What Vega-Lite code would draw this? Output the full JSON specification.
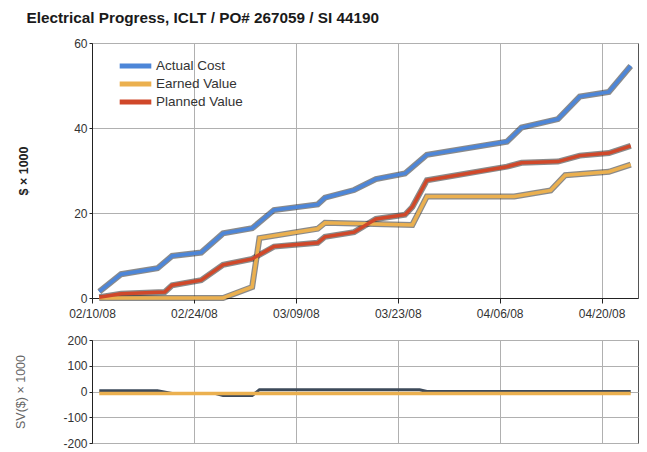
{
  "$schema": "https://vega.github.io/schema/vega-lite/v6.json",
  "autosize": {"type": "pad"},
  "padding": {"left": 14, "top": 11, "right": 0, "bottom": 1},
  "background": "white",
  "title": {
    "text": "Electrical Progress, ICLT / PO# 267059 / SI 44190",
    "anchor": "start",
    "frame": "bounds",
    "font": "Liberation Sans",
    "fontSize": 15.3,
    "fontWeight": "bold",
    "color": "#1a1a1a",
    "dx": 12,
    "offset": 10
  },
  "config": {
    "font": "Liberation Sans",
    "view": {"stroke": "#555", "strokeWidth": 1},
    "axis": {
      "labelFont": "Liberation Sans",
      "labelFontSize": 12,
      "labelColor": "#333",
      "gridColor": "#b0b0b0",
      "gridWidth": 1,
      "domainColor": "#222",
      "tickColor": "#222",
      "titleFont": "Liberation Sans"
    }
  },
  "datasets": {
    "main": [
      {"date": "2008-02-11", "series": "Actual Cost", "value": 1.5},
      {"date": "2008-02-14", "series": "Actual Cost", "value": 5.6},
      {"date": "2008-02-19", "series": "Actual Cost", "value": 7.0},
      {"date": "2008-02-21", "series": "Actual Cost", "value": 9.9},
      {"date": "2008-02-25", "series": "Actual Cost", "value": 10.7},
      {"date": "2008-02-28", "series": "Actual Cost", "value": 15.2},
      {"date": "2008-03-03", "series": "Actual Cost", "value": 16.4},
      {"date": "2008-03-06", "series": "Actual Cost", "value": 20.7},
      {"date": "2008-03-12", "series": "Actual Cost", "value": 22.0},
      {"date": "2008-03-13", "series": "Actual Cost", "value": 23.6},
      {"date": "2008-03-17", "series": "Actual Cost", "value": 25.4},
      {"date": "2008-03-20", "series": "Actual Cost", "value": 28.0},
      {"date": "2008-03-24", "series": "Actual Cost", "value": 29.3},
      {"date": "2008-03-27", "series": "Actual Cost", "value": 33.7},
      {"date": "2008-04-07", "series": "Actual Cost", "value": 36.8},
      {"date": "2008-04-09", "series": "Actual Cost", "value": 40.1},
      {"date": "2008-04-14", "series": "Actual Cost", "value": 42.1},
      {"date": "2008-04-17", "series": "Actual Cost", "value": 47.4},
      {"date": "2008-04-21", "series": "Actual Cost", "value": 48.5},
      {"date": "2008-04-24", "series": "Actual Cost", "value": 54.6},
      {"date": "2008-02-11", "series": "Earned Value", "value": 0},
      {"date": "2008-02-28", "series": "Earned Value", "value": 0},
      {"date": "2008-03-03", "series": "Earned Value", "value": 2.6},
      {"date": "2008-03-04", "series": "Earned Value", "value": 14.1},
      {"date": "2008-03-12", "series": "Earned Value", "value": 16.3},
      {"date": "2008-03-13", "series": "Earned Value", "value": 17.7},
      {"date": "2008-03-25", "series": "Earned Value", "value": 17.2},
      {"date": "2008-03-27", "series": "Earned Value", "value": 23.9},
      {"date": "2008-04-08", "series": "Earned Value", "value": 23.9},
      {"date": "2008-04-13", "series": "Earned Value", "value": 25.3},
      {"date": "2008-04-15", "series": "Earned Value", "value": 28.9},
      {"date": "2008-04-21", "series": "Earned Value", "value": 29.7},
      {"date": "2008-04-24", "series": "Earned Value", "value": 31.4},
      {"date": "2008-02-11", "series": "Planned Value", "value": 0.2},
      {"date": "2008-02-14", "series": "Planned Value", "value": 1.0},
      {"date": "2008-02-20", "series": "Planned Value", "value": 1.4},
      {"date": "2008-02-21", "series": "Planned Value", "value": 3.0},
      {"date": "2008-02-25", "series": "Planned Value", "value": 4.2},
      {"date": "2008-02-28", "series": "Planned Value", "value": 7.8},
      {"date": "2008-03-03", "series": "Planned Value", "value": 9.2},
      {"date": "2008-03-06", "series": "Planned Value", "value": 12.1},
      {"date": "2008-03-12", "series": "Planned Value", "value": 13.0},
      {"date": "2008-03-13", "series": "Planned Value", "value": 14.4},
      {"date": "2008-03-17", "series": "Planned Value", "value": 15.5},
      {"date": "2008-03-20", "series": "Planned Value", "value": 18.6},
      {"date": "2008-03-24", "series": "Planned Value", "value": 19.6},
      {"date": "2008-03-25", "series": "Planned Value", "value": 21.4},
      {"date": "2008-03-27", "series": "Planned Value", "value": 27.7},
      {"date": "2008-04-07", "series": "Planned Value", "value": 30.9},
      {"date": "2008-04-09", "series": "Planned Value", "value": 31.8},
      {"date": "2008-04-14", "series": "Planned Value", "value": 32.1},
      {"date": "2008-04-17", "series": "Planned Value", "value": 33.5},
      {"date": "2008-04-21", "series": "Planned Value", "value": 34.1},
      {"date": "2008-04-24", "series": "Planned Value", "value": 35.8}
    ],
    "sv": [
      {"date": "2008-02-11", "series": "SV", "value": 3},
      {"date": "2008-02-19", "series": "SV", "value": 3},
      {"date": "2008-02-21", "series": "SV", "value": -8},
      {"date": "2008-02-27", "series": "SV", "value": -8},
      {"date": "2008-02-28", "series": "SV", "value": -16},
      {"date": "2008-03-03", "series": "SV", "value": -16},
      {"date": "2008-03-04", "series": "SV", "value": 7},
      {"date": "2008-03-26", "series": "SV", "value": 7},
      {"date": "2008-03-27", "series": "SV", "value": 0},
      {"date": "2008-04-24", "series": "SV", "value": 0},
      {"date": "2008-02-11", "series": "EV", "value": -8},
      {"date": "2008-03-10", "series": "EV", "value": -8},
      {"date": "2008-04-24", "series": "EV", "value": -8}
    ]
  },
  "spacing": 13,
  "vconcat": [
    {
      "width": 546,
      "height": 255,
      "data": {"name": "main"},
      "encoding": {
        "x": {
          "field": "date",
          "type": "temporal",
          "scale": {"type": "utc", "domain": [{"year": 2008, "month": 2, "date": 10, "utc": true}, {"year": 2008, "month": 4, "date": 25, "utc": true}]},
          "axis": {
            "title": null,
            "format": "%m/%d/%y",
            "values": [
              {"year": 2008, "month": 2, "date": 10, "utc": true},
              {"year": 2008, "month": 2, "date": 24, "utc": true},
              {"year": 2008, "month": 3, "date": 9, "utc": true},
              {"year": 2008, "month": 3, "date": 23, "utc": true},
              {"year": 2008, "month": 4, "date": 6, "utc": true},
              {"year": 2008, "month": 4, "date": 20, "utc": true}
            ],
            "tickSize": 5,
            "labelPadding": 5,
            "labelOverlap": false,
            "labelFlush": false
          }
        },
        "y": {
          "field": "value",
          "type": "quantitative",
          "scale": {"domain": [0, 60], "nice": false},
          "axis": {
            "title": "$ × 1000",
            "titleFontSize": 12.5,
            "titleFontWeight": "bold",
            "titleColor": "#222",
            "titlePadding": 43,
            "values": [0, 20, 40, 60],
            "tickSize": 3,
            "labelPadding": 2
          }
        }
      },
      "layer": [
        {
          "mark": {"type": "line", "stroke": "#2a2a2a", "strokeWidth": 6, "opacity": 0.55},
          "encoding": {"detail": {"field": "series"}}
        },
        {
          "mark": {"type": "line", "strokeWidth": 3.5},
          "encoding": {
            "color": {
              "field": "series",
              "type": "nominal",
              "scale": {"domain": ["Actual Cost", "Earned Value", "Planned Value"], "range": ["#4d86d8", "#ebb04f", "#d0482a"]},
              "legend": {
                "title": null,
                "orient": "none",
                "legendX": 25,
                "legendY": 16,
                "symbolType": "stroke",
                "symbolSize": 1000,
                "symbolStrokeWidth": 5,
                "clipHeight": 14,
                "labelFontSize": 13.5,
                "labelColor": "#333",
                "labelFont": "Liberation Sans",
                "rowPadding": 4,
                "labelOffset": 2
              }
            }
          }
        }
      ]
    },
    {
      "width": 546,
      "height": 103,
      "data": {"name": "sv"},
      "encoding": {
        "x": {
          "field": "date",
          "type": "temporal",
          "scale": {"type": "utc", "domain": [{"year": 2008, "month": 2, "date": 10, "utc": true}, {"year": 2008, "month": 4, "date": 25, "utc": true}]},
          "axis": {
            "title": null,
            "labels": false,
            "ticks": false,
            "domain": false,
            "values": [
              {"year": 2008, "month": 2, "date": 10, "utc": true},
              {"year": 2008, "month": 2, "date": 24, "utc": true},
              {"year": 2008, "month": 3, "date": 9, "utc": true},
              {"year": 2008, "month": 3, "date": 23, "utc": true},
              {"year": 2008, "month": 4, "date": 6, "utc": true},
              {"year": 2008, "month": 4, "date": 20, "utc": true}
            ]
          }
        },
        "y": {
          "field": "value",
          "type": "quantitative",
          "scale": {"domain": [-200, 200], "nice": false},
          "axis": {
            "title": "SV($) × 1000",
            "titleFontSize": 12.5,
            "titleFontWeight": "normal",
            "titleColor": "#666",
            "titlePadding": 35,
            "values": [-200, -100, 0, 100, 200],
            "labelExpr": "datum.value < 0 ? '-' + abs(datum.value) : '' + datum.value",
            "tickSize": 3,
            "labelPadding": 2
          }
        }
      },
      "layer": [
        {
          "transform": [{"filter": "datum.series === 'SV'"}],
          "mark": {"type": "line", "stroke": "#3d4a5a", "strokeWidth": 3}
        },
        {
          "transform": [{"filter": "datum.series === 'EV'"}],
          "mark": {"type": "line", "stroke": "#ebb04f", "strokeWidth": 3.5}
        }
      ]
    }
  ]
}
